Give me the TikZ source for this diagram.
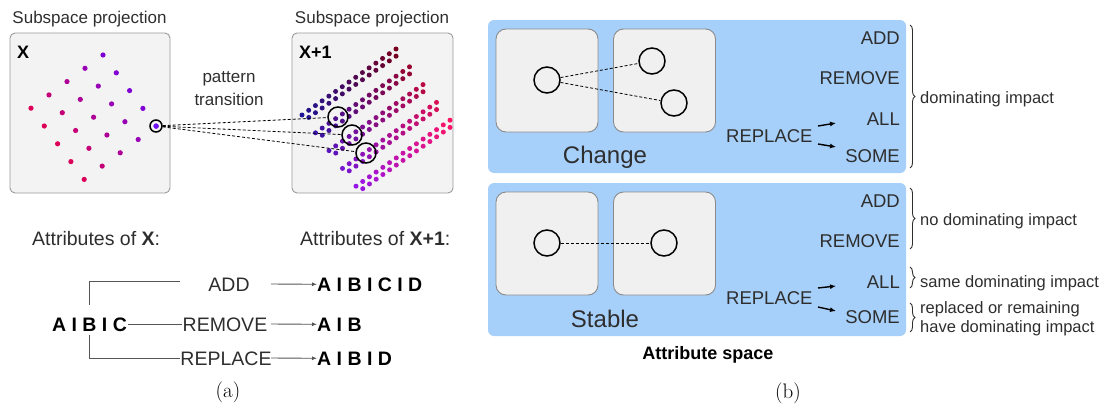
\documentclass[tikz,border=0pt]{standalone}
\usepackage{fontspec}
\newfontfamily\hv{Liberation Sans}
\usetikzlibrary{arrows.meta,decorations.pathreplacing}
\definecolor{txt}{HTML}{2E2E2E}
\definecolor{panel}{RGB}{166,208,250}
\definecolor{boxfill}{HTML}{F3F3F3}
\definecolor{boxline}{HTML}{9A9A9A}
\definecolor{iboxfill}{HTML}{F0F0F0}
\definecolor{iboxline}{HTML}{8A8A8A}
\definecolor{treeline}{HTML}{555555}
\begin{document}
\begin{tikzpicture}[x=1pt,y=-1pt,
  lbl/.style={font=\hv\fontsize{17}{23}\selectfont,text=txt,inner sep=0pt},
  hdr/.style={font=\hv\bfseries\fontsize{18}{20}\selectfont,text=black,inner sep=0pt},
  tlbl/.style={font=\hv\fontsize{19.5}{22}\selectfont,text=txt,inner sep=0pt},
  bres/.style={font=\hv\bfseries\fontsize{19.5}{22}\selectfont,text=black,inner sep=0pt},
  blbl/.style={font=\hv\fontsize{18.5}{21}\selectfont,text=txt,inner sep=0pt},
  nlbl/.style={font=\hv\fontsize{16.5}{19}\selectfont,text=txt,inner sep=0pt},
  biglbl/.style={font=\hv\fontsize{24}{26}\selectfont,text=txt,inner sep=0pt},
  capt/.style={font=\fontsize{21}{24}\selectfont,inner sep=0pt},
  pbox/.style={draw=boxline,fill=boxfill,rounded corners=5pt,line width=0.9pt,inner sep=0pt},
  panelbox/.style={fill=panel,rounded corners=6pt,inner sep=0pt,minimum width=418pt,minimum height=153pt},
  ibox/.style={draw=iboxline,fill=iboxfill,rounded corners=10pt,line width=0.9pt,minimum width=102pt,minimum height=103pt,inner sep=0pt},
  ring/.style={circle,draw=black,line width=1.5pt,inner sep=0pt,minimum size=20pt},
  bring/.style={circle,draw=black,line width=1.5pt,inner sep=0pt,minimum size=26pt},
  dsh/.style={dash pattern=on 3pt off 2pt,line width=0.8pt},
  tree/.style={draw=treeline,line width=0.9pt},
  tarrow/.style={draw=treeline,line width=0.9pt,-{Latex[length=5pt,width=4pt]}},
  barrow/.style={line width=1.4pt,-{Latex[length=6pt,width=5pt]}},
  brc/.style={decorate,decoration={brace,amplitude=5pt},line width=0.9pt,draw=txt}
]
\useasboundingbox (0,0) rectangle (1107,407);

% ---------------- (a) ----------------
\node[lbl,anchor=base] (sp1) at (89.5,23.5) {Subspace projection};
\node[lbl,anchor=base] (sp2) at (372,23.5) {Subspace projection};
\node[pbox,minimum width=160pt,minimum height=160pt] (bx) at (90,113) {};
\node[pbox,minimum width=161pt,minimum height=160pt] (bx1) at (372.5,113) {};
\node[hdr,anchor=base west] (xl) at (17,58) {X};
\node[hdr,anchor=base west] (xl1) at (299,58) {X+1};

% dots of X
\foreach \i in {0,...,4}{
  \foreach \j in {0,...,4}{
    \pgfmathsetmacro\px{103-18*\i+13.3*\j}
    \pgfmathsetmacro\py{55+13.3*\i+17.8*\j}
    \pgfmathtruncatemacro\cr{128+23*\i}
    \pgfmathtruncatemacro\cb{212-31*\i}
    \fill[color={rgb,255:red,\cr;green,0;blue,\cb}] (\px,\py) circle[radius=2.6pt];
  }
}
\fill[color={rgb,255:red,112;green,16;blue,240}] (156,126) circle[radius=2.6pt];
\node[circle,draw=black,line width=1.5pt,inner sep=0pt,minimum size=12pt] (src) at (156,126) {};

% dots of X+1
\foreach \k in {0,...,4}{
  \foreach \n in {0,...,14}{
    \pgfmathsetmacro\t{\n/14}
    \pgfmathsetmacro\px{302+13.5*\k+94*\t}
    \pgfmathsetmacro\py{115+17.8*\k-66*\t}
    \pgfmathtruncatemacro\cr{min(255,(30+30*\k)*(1-\t)+(120+33*\k)*\t)}
    \pgfmathtruncatemacro\cg{20*(1-\t)+5*\k*\t}
    \pgfmathtruncatemacro\cb{min(255,(150+20*\k)*(1-\t)+(30+18*\k)*\t)}
    \fill[color={rgb,255:red,\cr;green,\cg;blue,\cb}] (\px,\py) circle[radius=2.5pt];
    \ifnum\n<14
      \pgfmathsetmacro\tb{(\n+0.5)/14}
      \pgfmathsetmacro\qx{302+13.5*\k+94*\tb+3.4}
      \pgfmathsetmacro\qy{115+17.8*\k-66*\tb+4.8}
      \pgfmathtruncatemacro\dr{min(255,(30+30*\k)*(1-\tb)+(120+33*\k)*\tb)}
      \pgfmathtruncatemacro\dg{20*(1-\tb)+5*\k*\tb}
      \pgfmathtruncatemacro\db{min(255,(150+20*\k)*(1-\tb)+(30+18*\k)*\tb)}
      \fill[color={rgb,255:red,\dr;green,\dg;blue,\db}] (\qx,\qy) circle[radius=2.5pt];
    \fi
  }
}
\node[ring] (c1) at (338,117) {};
\node[ring] (c2) at (352,135) {};
\node[ring] (c3) at (366,153) {};
\draw[dsh] (src) -- (c1);
\draw[dsh] (src) -- (c2);
\draw[dsh] (src) -- (c3);

\node[lbl,anchor=base] (pt1) at (229,82) {pattern};
\node[lbl,anchor=base] (pt2) at (229,105) {transition};

\node[tlbl,anchor=base west] (atx) at (32,245) {Attributes of \textbf{X}:};
\node[tlbl,anchor=base west] (atx1) at (300,245) {Attributes of \textbf{X+1}:};

\node[bres,anchor=base] (abc) at (89.5,331) {A I B I C};
\node[tlbl,anchor=base] (add) at (229,291) {ADD};
\node[tlbl,anchor=base] (rem) at (225,331) {REMOVE};
\node[tlbl,anchor=base] (rep) at (226,365) {REPLACE};
\node[bres,anchor=base west] (r1) at (317,291) {A I B I C I D};
\node[bres,anchor=base west] (r2) at (317,331) {A I B};
\node[bres,anchor=base west] (r3) at (317,365) {A I B I D};
\coordinate (addin) at (180,281);
\draw[tree] ([yshift=12pt]abc.north) |- (addin);
\draw[tree] ([xshift=1pt]abc.east) -- ([xshift=-1pt]rem.west);
\draw[tree] ([yshift=-4pt]abc.south) |- (rep.west);
\coordinate (a1) at (271,284);
\coordinate (a2) at (271,324);
\coordinate (a3) at (271,358);
\draw[tarrow] (a1) -- (r1.west);
\draw[tarrow] (a2) -- (r2.west);
\draw[tarrow] (a3) -- (r3.west);

\node[capt] (capa) at (228,392) {(a)};

% ---------------- (b) ----------------
\node[panelbox] (pch) at (697,96.5) {};
\node[panelbox] (pst) at (697,259.5) {};
\node[ibox] (ch1) at (547,80.5) {};
\node[ibox] (ch2) at (664.5,80.5) {};
\node[ibox] (st1) at (547,243.5) {};
\node[ibox] (st2) at (664.5,243.5) {};
\node[bring] (k1) at (547,80) {};
\node[bring] (k2) at (652,61) {};
\node[bring] (k3) at (674,103) {};
\draw[dsh] (k1) -- (k2);
\draw[dsh] (k1) -- (k3);
\node[bring] (s1) at (547,243) {};
\node[bring] (s2) at (664,243) {};
\draw[dsh] (s1) -- (s2);
\node[biglbl,anchor=base] (chg) at (605,163) {Change};
\node[biglbl,anchor=base] (stb) at (605,327) {Stable};

\node[blbl,anchor=base east] (cadd) at (900,44) {ADD};
\node[blbl,anchor=base east] (crem) at (900,84) {REMOVE};
\node[blbl,anchor=base east] (call) at (900,125) {ALL};
\node[blbl,anchor=base east] (csome) at (900,162) {SOME};
\node[blbl,anchor=base west] (crep) at (726,142) {REPLACE};
\coordinate (ca1) at (818,126);
\coordinate (ca2) at (836,123);
\coordinate (cb1) at (818,144);
\coordinate (cb2) at (836,147);
\draw[barrow] (ca1) -- (ca2);
\draw[barrow] (cb1) -- (cb2);

\node[blbl,anchor=base east] (sadd) at (900,207) {ADD};
\node[blbl,anchor=base east] (srem) at (900,247) {REMOVE};
\node[blbl,anchor=base east] (sall) at (900,288) {ALL};
\node[blbl,anchor=base east] (ssome) at (900,323) {SOME};
\node[blbl,anchor=base west] (srep) at (726,304) {REPLACE};
\coordinate (sa1) at (818,288);
\coordinate (sa2) at (836,286);
\coordinate (sb1) at (818,307);
\coordinate (sb2) at (836,311);
\draw[barrow] (sa1) -- (sa2);
\draw[barrow] (sb1) -- (sb2);

\draw[brc] (910,25) -- (910,168);
\draw[brc] (910,188) -- (910,249);
\draw[brc] (910,267) -- (910,288);
\draw[brc] (910,303) -- (910,332);
\node[nlbl,anchor=base west] (d1) at (920,103) {dominating impact};
\node[nlbl,anchor=base west] (d2) at (920,225) {no dominating impact};
\node[nlbl,anchor=base west] (d3) at (920,287) {same dominating impact};
\node[nlbl,anchor=base west] (d4) at (920,313) {replaced or remaining};
\node[nlbl,anchor=base west] (d5) at (920,332) {have dominating impact};

\node[hdr,anchor=base] (asp) at (708,359) {Attribute space};
\node[capt] (capb) at (788,393) {(b)};
\end{tikzpicture}
\end{document}
